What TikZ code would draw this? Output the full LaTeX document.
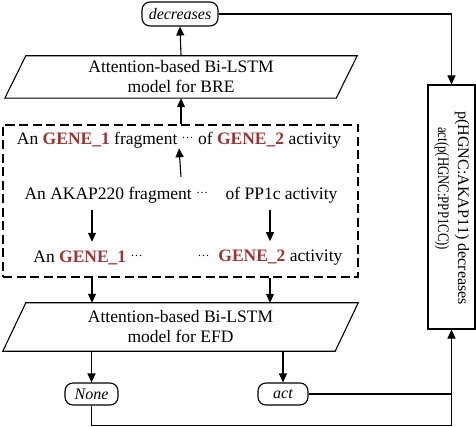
\documentclass[tikz,border=0pt]{standalone}
\usepackage{fontspec}
\usepackage{graphicx}
\setmainfont{Liberation Serif}
\usetikzlibrary{arrows.meta,calc}
\definecolor{genecol}{RGB}{150,55,55}
\newcommand{\gene}[1]{\textcolor{genecol}{\textbf{#1}}}
\newcommand{\dts}{\raisebox{0.32em}{\fontsize{12}{12}\selectfont …}}
\begin{document}
\begin{tikzpicture}[x=1pt,y=-1pt,
  ln/.style={line width=1.1pt},
  arr/.style={line width=1.1pt,-{Triangle[length=9pt,width=8pt]}},
  term/.style={draw,line width=1.1pt,rounded corners=8pt,inner sep=0pt,font=\fontsize{16}{18}\selectfont\itshape},
  txt/.style={inner sep=0pt,font=\fontsize{17.5}{20}\selectfont},
  dashbox/.style={draw,line width=1.3pt,dash pattern=on 9pt off 4.5pt},
  relbox/.style={draw,line width=1.1pt,inner sep=0pt},
  reltxt/.style={rotate=-90,anchor=west,inner sep=0pt,font=\fontsize{16}{18}\selectfont}]
\useasboundingbox (0,0) rectangle (476,427);
\coordinate (cl) at (92,0);
\coordinate (cr) at (270,0);
% terminals
\node[term,minimum width=76,minimum height=24] (dec) at (180,14) {decreases};
\node[term,minimum width=53,minimum height=22] (none) at (91.5,394) {None};
\node[term,minimum width=50,minimum height=22] (act) at (283,394) {act};
% BRE model
\node[txt,align=center,minimum width=331,minimum height=42] (bre) at (181,77) {Attention-based Bi-LSTM\\model for BRE};
\draw[ln] ($(bre.north west)+(10.5,0)$) -- ($(bre.north east)+(10.5,0)$) -- ($(bre.south east)+(-10.5,0)$) -- ($(bre.south west)+(-10.5,0)$) -- cycle;
% EFD model
\node[txt,align=center,minimum width=332,minimum height=48] (efd) at (180.5,327) {Attention-based Bi-LSTM\\model for EFD};
\draw[ln] ($(efd.north west)+(11.5,0)$) -- ($(efd.north east)+(11.5,0)$) -- ($(efd.south east)+(-11.5,0)$) -- ($(efd.south west)+(-11.5,0)$) -- cycle;
% dashed frame
\node[dashbox,minimum width=355,minimum height=152] (frame) at (180.5,201) {};
\node[txt] (l1) at (179,140) {An \gene{GENE\_1} fragment \dts\ of \gene{GENE\_2} activity};
\node[txt] (l2) at (181,195) {An AKAP220 fragment \dts\quad of PP1c activity};
\node[txt] (l3a) at (88,258) {An \gene{GENE\_1} \dts};
\node[txt] (l3b) at (270,258) {\dts\ \ \gene{GENE\_2} activity};
% relation box
\node[relbox,minimum width=47,minimum height=244] (rel) at (451.5,207) {};
\node[reltxt] (r1) at (462,111) {\resizebox{194pt}{\height}{p(HGNC:AKAP11) decreases}};
\node[reltxt] (r2) at (442,127) {\resizebox{123pt}{\height}{act(p(HGNC:PPP1CC))}};
% arrows
\draw[arr] ([yshift=10pt]l2.north) -- (l1.south);
\draw[arr,shorten <=7pt,shorten >=9pt] (l2.south -| cl) -- (l3a.north -| cl);
\draw[arr,shorten <=7pt,shorten >=9pt] (l2.south -| cr) -- (l3b.north -| cr);
\draw[arr] (frame.south -| cl) -- (efd.north -| cl);
\draw[arr] (frame.south -| cr) -- (efd.north -| cr);
\draw[arr] (efd.south -| none) -- (none.north);
\draw[arr] (efd.south -| act) -- (act.north);
\draw[arr] (frame.north -| bre) -- (bre.south);
\draw[arr] (bre.north) -- (dec.south);
\draw[arr] (dec.east) -| (rel.north);
\draw[arr] (act.east) -| (rel.south);
\draw[ln] (none.south) -- ++(0,20) -| (rel.south);
\end{tikzpicture}
\end{document}
